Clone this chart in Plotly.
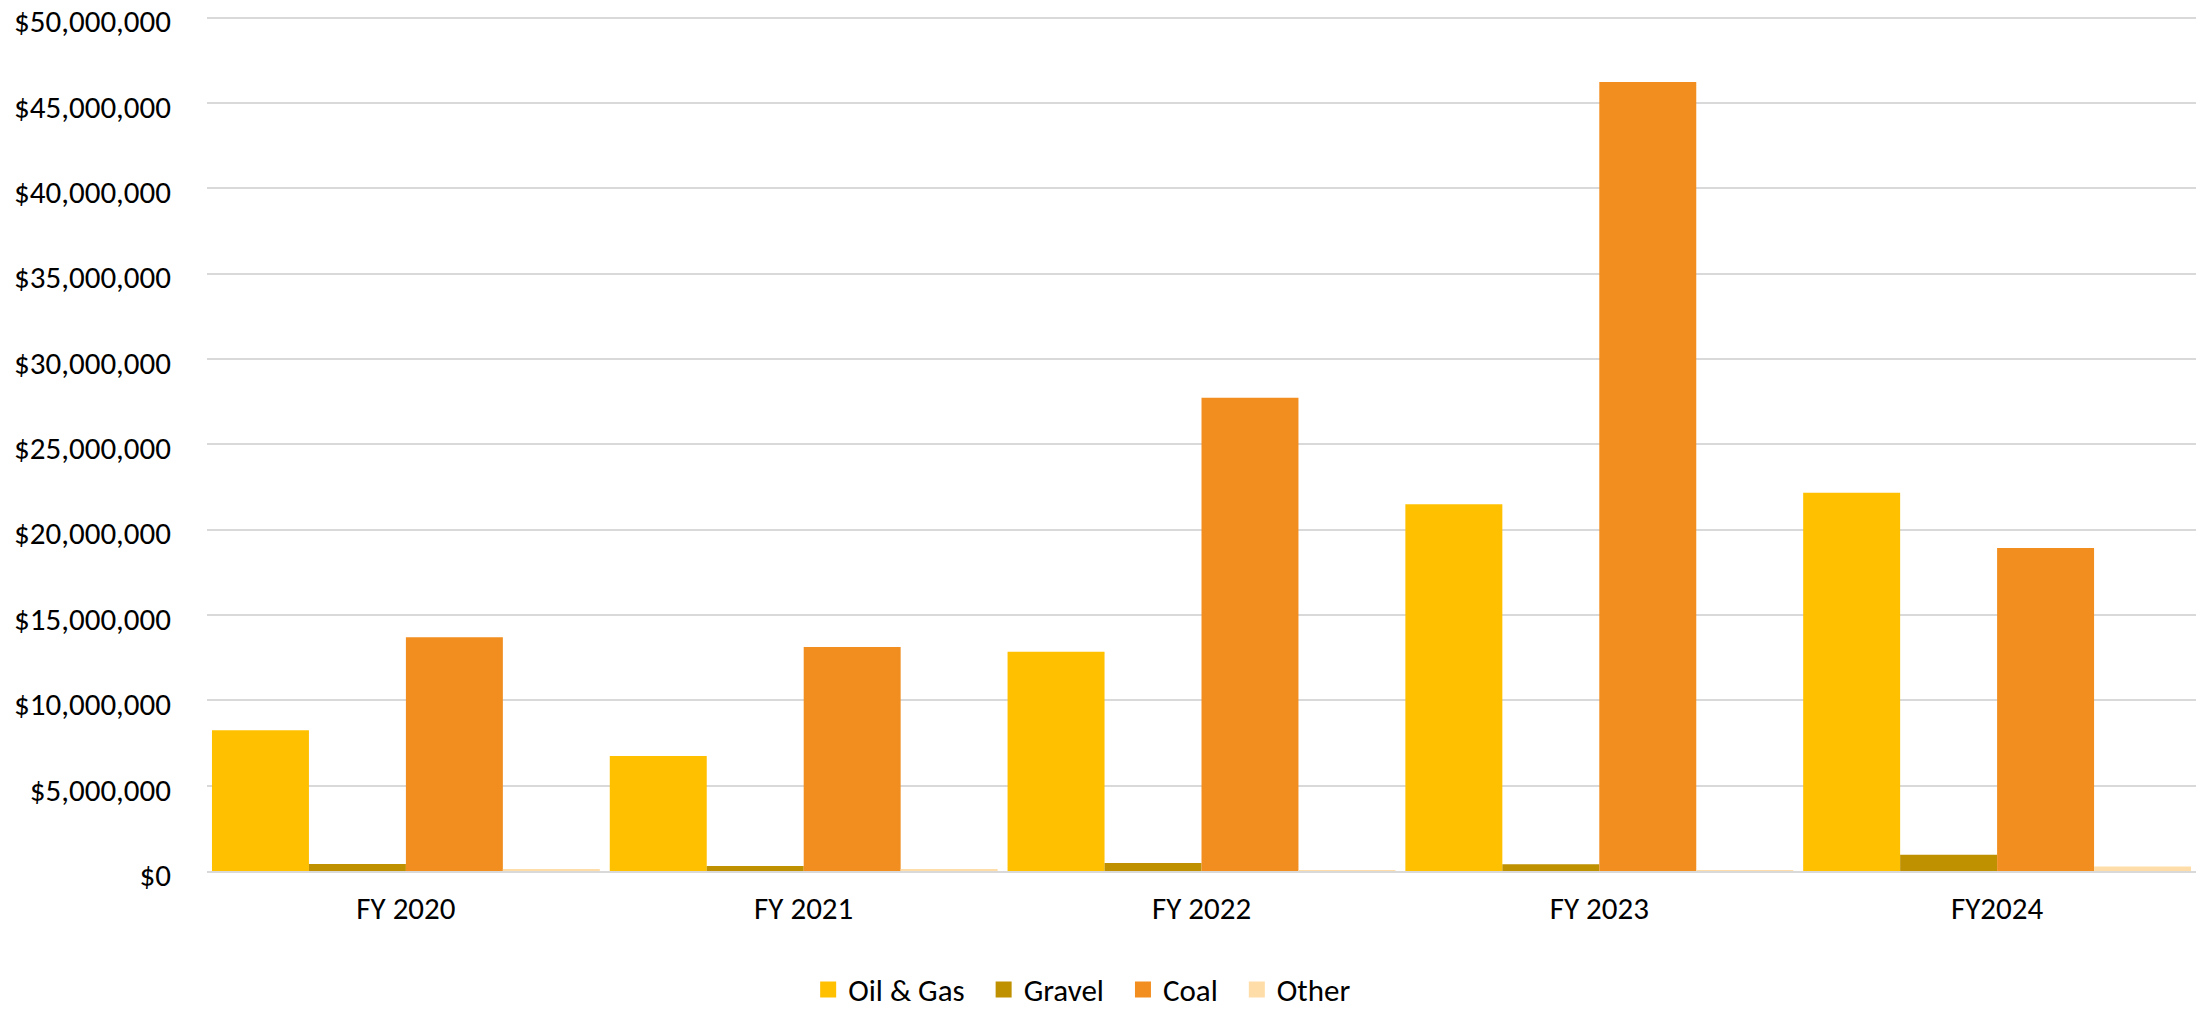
import plotly.graph_objects as go

categories = ["FY 2020", "FY 2021", "FY 2022", "FY 2023", "FY2024"]
oil_gas = [8240000, 6740000, 12850000, 21480000, 22160000]
gravel = [410000, 300000, 470000, 390000, 950000]
coal = [13690000, 13120000, 27730000, 46220000, 18920000]
other = [100000, 80000, 20000, 10000, 270000]

series_names = ["Oil & Gas", "Gravel", "Coal", "Other"]
series_values = [oil_gas, gravel, coal, other]
series_colors = ["#FFC000", "#BF9000", "#F28E1F", "#FFDDA8"]

y_ticks = list(range(0, 50000001, 5000000))
y_tick_labels = ["$" + format(v, ",") for v in y_ticks]
y_max = 50500000

FONT = "Calibri, Carlito, Lato, sans-serif"
FS = 31

# plot area: $0 at y=871, $50M at y=18 (pixels from top)
px_per_unit = (871 - 18) / 50000000
plot_h = y_max * px_per_unit
top_margin = 871 - plot_h

fig = go.Figure()
for name, vals, col in zip(series_names, series_values, series_colors):
    fig.add_trace(go.Bar(
        x=categories, y=vals, name=name,
        marker=dict(color=col, line=dict(width=0)),
        showlegend=False,
    ))
# legend entries with larger square swatches
pad = "\u00a0\u00a0"
for i, (name, col) in enumerate(zip(series_names, series_colors)):
    label = name + (pad if i < len(series_names) - 1 else "")
    fig.add_trace(go.Scatter(
        x=[None], y=[None], mode="markers", name=label,
        marker=dict(symbol="square", size=17, color=col),
        showlegend=True,
    ))

fig.update_layout(
    width=2204, height=1012,
    margin=dict(l=207, r=8, t=top_margin, b=141, autoexpand=False),
    paper_bgcolor="white", plot_bgcolor="white",
    barmode="group", bargap=0.025, bargroupgap=0,
    font=dict(family=FONT, size=FS, color="#000000"),
    showlegend=True,
    legend=dict(
        orientation="h",
        xref="container", yref="container",
        x=0.491, xanchor="center",
        y=0.022, yanchor="middle",
        font=dict(family=FONT, size=FS, color="#000000"),
        itemsizing="trace",
        itemwidth=30,
        tracegroupgap=0,
    ),
    xaxis=dict(
        showgrid=False,
        showline=True, linecolor="#D9D9D9", linewidth=2,
        ticks="", ticklabelstandoff=9,
        tickfont=dict(family=FONT, size=FS, color="#000000"),
    ),
    yaxis=dict(
        range=[0, y_max],
        tickmode="array", tickvals=y_ticks, ticktext=y_tick_labels,
        showgrid=True, gridcolor="#D9D9D9", gridwidth=1.5,
        zeroline=False, showline=False,
        ticks="", ticklabelstandoff=35, ticklabelshift=4,
        ticklabeloverflow="allow",
        tickfont=dict(family=FONT, size=FS, color="#000000"),
    ),
)

fig.write_html(
    "out.html",
    config={"displayModeBar": False},
    post_script="document.body.style.margin='0';document.body.style.overflow='hidden';",
)
